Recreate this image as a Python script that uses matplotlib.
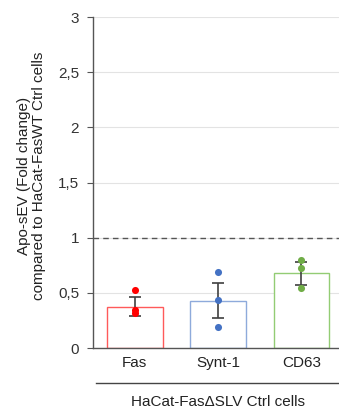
import numpy as np
import matplotlib
matplotlib.use("Agg")
from matplotlib import pyplot as plt
from matplotlib.lines import Line2D

plt.rcParams['font.family'] = ['Liberation Sans', 'DejaVu Sans']

categories = ['Fas', 'Synt-1', 'CD63']
bar_means = [0.374, 0.43, 0.677]
err_low = [0.29, 0.272, 0.567]
err_high = [0.465, 0.589, 0.78]
points = [[0.53, 0.345, 0.32], [0.686, 0.438, 0.193], [0.798, 0.725, 0.547]]
edge_colors = ['#ff5a5a', '#8eaadb', '#93cc74']
dot_colors = ['#ff0000', '#4472c4', '#70ad47']
yticks = [0, 0.5, 1, 1.5, 2, 2.5, 3]
ytick_labels = ['0', '0,5', '1', '1,5', '2', '2,5', '3']

fig = plt.figure(figsize=(3.39, 4.17), dpi=100)
ax = fig.add_axes([93 / 339, 1 - 348 / 417, 1 - 93 / 339, (348 - 17) / 417])

x = np.arange(len(categories))
ax.bar(x, bar_means, width=0.67, color='white', edgecolor=edge_colors, linewidth=1.0, zorder=2)

yerr = [np.array(bar_means) - np.array(err_low), np.array(err_high) - np.array(bar_means)]
ax.errorbar(x, bar_means, yerr=yerr, fmt='none', ecolor='#404040', elinewidth=1.2,
            capsize=4.5, capthick=1.2, zorder=3)

for i, pts in enumerate(points):
    ax.scatter([x[i]] * len(pts), pts, s=26, color=dot_colors[i], zorder=4, linewidths=0)

ax.axhline(1, color='#555555', linestyle=(0, (4, 3)), linewidth=1.0, zorder=1)

ax.set_xlim(-0.5, 2.45)
ax.set_ylim(0, 3)
ax.set_yticks(yticks)
ax.set_yticklabels(ytick_labels, fontsize=11, color='#333333')
ax.set_xticks(x)
ax.set_xticklabels(categories, fontsize=11, color='#222222')
ax.tick_params(axis='x', length=0, pad=6)
ax.tick_params(axis='y', length=4, width=0.8, color='#555555', pad=6)
ax.yaxis.grid(True, color='#e3e3e3', linewidth=0.8, zorder=0)
ax.set_axisbelow(True)

for s in ['top', 'right']:
    ax.spines[s].set_visible(False)
ax.spines['left'].set_color('#555555')
ax.spines['bottom'].set_color('#555555')
ax.spines['left'].set_linewidth(1.0)
ax.spines['bottom'].set_linewidth(1.0)

ax.set_ylabel('Apo-sEV (Fold change)\ncompared to HaCat-FasWT Ctrl cells',
              fontsize=11, color='#222222', labelpad=8, linespacing=1.15)
ax.yaxis.set_label_coords(-0.19, 0.52)

fig.add_artist(Line2D([96 / 339, 1.0], [1 - 383 / 417, 1 - 383 / 417],
                      color='#444444', linewidth=1.0))
fig.text(218 / 339, 1 - 402 / 417, 'HaCat-Fas\u0394SLV Ctrl cells', ha='center', va='center',
         fontsize=11, color='#222222')

fig.savefig('out.png', dpi=100)
